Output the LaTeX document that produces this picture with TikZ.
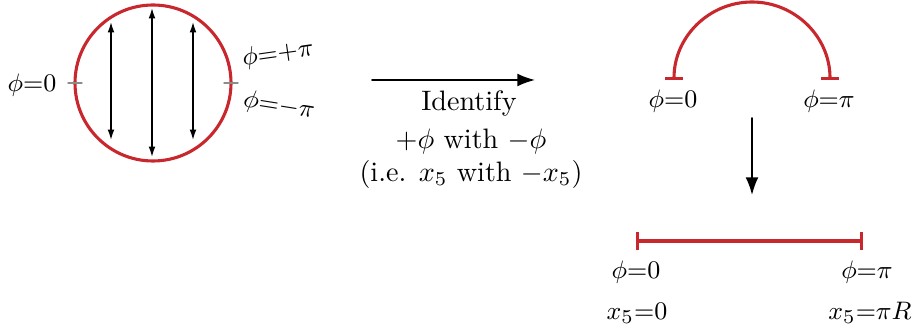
\documentclass[tikz,border=0pt]{standalone}
\usepackage{tkz-euclide}
\usetikzlibrary{arrows,arrows.meta,calc}
\definecolor{CircleClr}{RGB}{200,40,45}
\definecolor{TickClr}{RGB}{140,140,140}

\begin{document}
\begin{tikzpicture}[x=0.125mm,y=0.125mm,
  lbl/.style={inner sep=0pt,font=\fontsize{9.5}{11}\selectfont},
  txt/.style={inner sep=0pt,font=\fontsize{10}{12}\selectfont},
  dbl/.style={line width=0.5pt,{Latex[length=1.3mm,width=0.85mm]}-{Latex[length=1.3mm,width=0.85mm]}},
  arr/.style={line width=0.6pt,-{Latex[length=2.2mm,width=1.6mm]}},
  tick/.style={line width=0.5pt,color=TickClr},
  redln/.style={line width=1.1pt,color=CircleClr},
  barred/.style={redln,{Bar[width=2.2mm]}-{Bar[width=2.2mm]}}]
\useasboundingbox (0,0) rectangle (914,331);

% circle with phi running round it
\tkzDefPoints{153/248/O,231/248/P}
\tkzDefPoints{111/309/A1,111/191/B1,152/323/A2,152/174/B2,193/309/A3,193/191/B3}
\tkzDefPoints{68/248/T1,82/248/T2,224/248/T3,238/248/T4}

\tkzDrawCircle[redln](O,P)
\tkzDrawSegments[dbl](A1,B1 A2,B2 A3,B3)
\tkzDrawSegments[tick](T1,T2 T3,T4)

\node[lbl] (zeroL) at (32,246) {$\phi{=}0$};
\node[lbl,rotate=8] (plusPi) at (278,277) {$\phi{=}{+}\pi$};
\node[lbl,rotate=-9] (minusPi) at (279,225) {$\phi{=}{-}\pi$};

% identification
\tkzDefPoints{372/251/I1,535/251/I2}
\tkzDrawSegment[arr](I1,I2)
\node[txt] (ident) at (469,228) {Identify};
\node[txt] (withA) at (471,190) {$+\phi$ with $-\phi$};
\node[txt] (withB) at (471,157) {(i.e. $x_5$ with $-x_5$)};

% half circle
\tkzDefPoints{752/251/C,830/251/E,674/251/F}
\draw[barred] (E) arc (0:180:78);
\node[lbl] (zeroA) at (673,230) {$\phi{=}0$};
\node[lbl] (piA) at (829,230) {$\phi{=}\pi$};

\tkzDefPoints{752/213/D1,752/136/D2}
\tkzDrawSegment[arr](D1,D2)

% the interval
\tkzDefPoints{636/90/S1,863/90/S2}
\tkzDrawSegment[barred](S1,S2)
\node[lbl] (zeroB) at (636,59) {$\phi{=}0$};
\node[lbl] (piB) at (867,59) {$\phi{=}\pi$};
\node[lbl] (xzero) at (637,18) {$x_5{=}0$};
\node[lbl] (xpiR) at (870,18) {$x_5{=}\pi R$};

\end{tikzpicture}
\end{document}
